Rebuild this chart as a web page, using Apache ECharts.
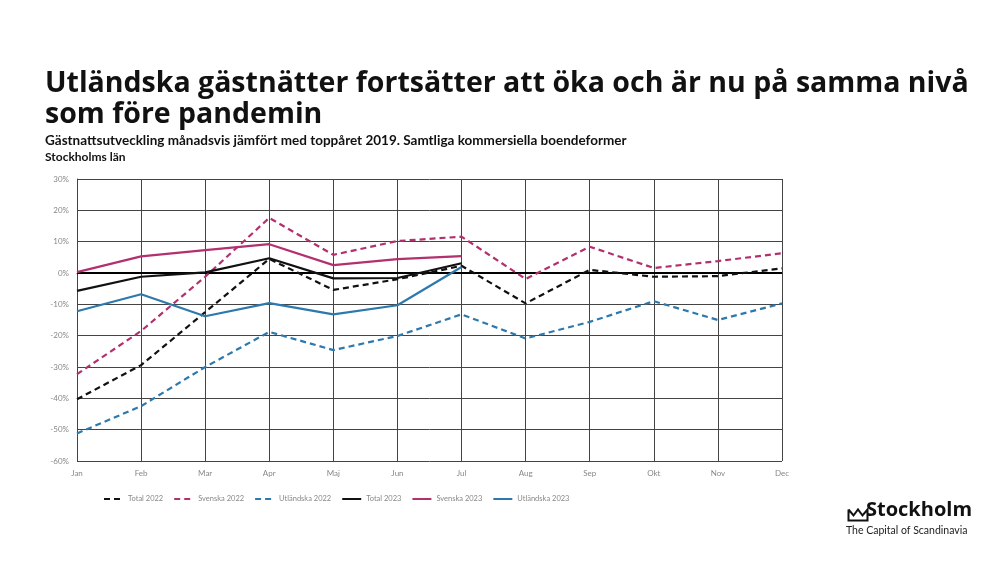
<!DOCTYPE html>
<html><head><meta charset="utf-8">
<script src="https://cdn.jsdelivr.net/npm/echarts@6/dist/echarts.min.js"></script>
<style>html,body{margin:0;padding:0;background:#fff}#c{width:1000px;height:563px}</style>
</head><body><div id="c"></div>
<script>
const months = ['Jan','Feb','Mar','Apr','Maj','Jun','Jul','Aug','Sep','Okt','Nov','Dec'];
const total2022 = [-40.3, -29.4, -12.5, 4.5, -5.4, -2.0, 2.3, -9.7, 1.0, -1.2, -1.0, 1.5];
const svenska2022 = [-32.3, -18.5, -1.2, 17.6, 5.8, 10.2, 11.6, -1.9, 8.4, 1.6, 3.8, 6.3];
const utlandska2022 = [-51.2, -42.5, -30.0, -18.8, -24.6, -20.1, -13.2, -20.9, -15.6, -9.0, -15.0, -9.7];
const total2023 = [-5.7, -1.2, 0.2, 4.7, -1.7, -1.6, 3.1];
const svenska2023 = [0.3, 5.3, 7.3, 9.2, 2.5, 4.4, 5.4];
const utlandska2023 = [-12.2, -6.8, -13.8, -9.6, -13.2, -10.3, 1.9];
const yTicks = {min: -60, max: 30, interval: 10};

const MAG = '#b3306f', BLUE = '#2d79ad', BLK = '#111';
function s(name, data, color, dashed, extra) {
  return Object.assign({
    name, type: 'line', data, symbol: 'none', smooth: false,
    lineStyle: {color, width: 2.2, type: dashed ? [6, 4] : 'solid'},
    itemStyle: {color}, z: 3
  }, extra || {});
}
const chart = echarts.init(document.getElementById('c'), null, {renderer: 'canvas'});
chart.setOption({
  animation: false,
  textStyle: {fontFamily: 'Lato, sans-serif'},
  title: [
    {text: 'Utländska gästnätter fortsätter att öka och är nu på samma nivå\nsom före pandemin', left: 45, top: 68, padding: 0,
     textStyle: {fontFamily: 'Open Sans', fontWeight: 'bold', fontSize: 28.5, lineHeight: 31, color: '#111'}},
    {text: 'Gästnattsutveckling månadsvis jämfört med toppåret 2019. Samtliga kommersiella boendeformer', left: 45, top: 134, padding: 0,
     textStyle: {fontFamily: 'Lato', fontWeight: 'bold', fontSize: 13.5, color: '#111'}},
    {text: 'Stockholms län', left: 45, top: 151, padding: 0,
     textStyle: {fontFamily: 'Lato', fontWeight: 'bold', fontSize: 12, color: '#111'}}
  ],
  grid: {left: 77, right: 218, top: 179, bottom: 102, containLabel: false},
  xAxis: {
    type: 'category', data: months, boundaryGap: false,
    axisLine: {show: true, lineStyle: {color: '#444', width: 1}},
    axisTick: {show: false},
    axisLabel: {color: '#888', fontSize: 8, margin: 8},
    splitLine: {show: true, lineStyle: {color: '#444', width: 1}}
  },
  yAxis: {
    type: 'value', min: yTicks.min, max: yTicks.max, interval: yTicks.interval,
    axisLine: {show: true, lineStyle: {color: '#444', width: 1}},
    axisTick: {show: false},
    axisLabel: {color: '#888', fontSize: 8, margin: 8, formatter: v => v + '%'},
    splitLine: {show: true, lineStyle: {color: '#444', width: 1}}
  },
  legend: {
    left: 103, top: 495, itemWidth: 19, itemHeight: 8, itemGap: 10, padding: 0,
    itemStyle: {opacity: 0},
    textStyle: {color: '#888', fontSize: 7.5},
    data: ['Total 2022','Svenska 2022','Utländska 2022','Total 2023','Svenska 2023','Utländska 2023']
  },
  series: [
    s('Total 2022', total2022, BLK, true, {
      markLine: {silent: true, symbol: 'none', label: {show: false},
        lineStyle: {color: '#000', width: 2, type: 'solid'}, data: [{yAxis: 0}], z: 2}
    }),
    s('Svenska 2022', svenska2022, MAG, true),
    s('Utländska 2022', utlandska2022, BLUE, true),
    s('Total 2023', total2023, BLK, false),
    s('Svenska 2023', svenska2023, MAG, false),
    s('Utländska 2023', utlandska2023, BLUE, false)
  ],
  graphic: [
    {type: 'polyline', left: 846, top: 507, shape: {points: [[0,0],[0,11],[19,11],[19,0],[14,6],[9.5,0],[5,6],[0,0]]},
      style: {fill: 'none', stroke: '#111', lineWidth: 2}},
    {type: 'text', left: 866, top: 500, style: {text: 'Stockholm', fontFamily: 'Open Sans', fontWeight: 'bold', fontSize: 20, fill: '#111'}},
    {type: 'text', left: 846, top: 525, style: {text: 'The Capital of Scandinavia', fontFamily: 'Lato', fontSize: 10.5, fill: '#222'}}
  ]
});
</script></body></html>
